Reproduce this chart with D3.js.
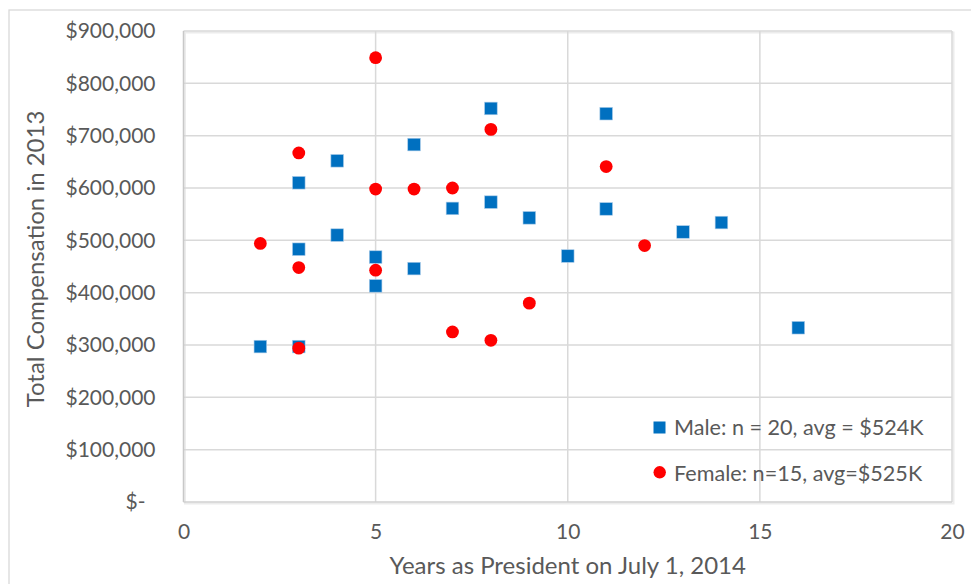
<!DOCTYPE html>
<html>
<head>
<meta charset="utf-8">
<script src="https://cdn.jsdelivr.net/npm/d3@7"></script>
<style>
  body { margin: 0; background: #fff; }
  text { font-family: Lato, "Open Sans", sans-serif; fill: #595959; }
</style>
</head>
<body>
<div id="chart"></div>
<script>
// data
var maleYears = [2, 3, 3, 3, 4, 4, 5, 5, 6, 6, 7, 8, 8, 9, 10, 11, 11, 13, 14, 16];
var maleComp = [297000, 297000, 483000, 610000, 652000, 510000, 468000, 413000, 683000, 446000,
                561000, 752000, 573000, 543000, 470000, 742000, 560000, 516000, 534000, 333000];
var femaleYears = [2, 3, 3, 3, 5, 5, 5, 6, 7, 7, 8, 8, 9, 11, 12];
var femaleComp = [494000, 667000, 448000, 294000, 849000, 598000, 443000, 598000, 600000, 325000,
                  712000, 309000, 380000, 641000, 490000];
var xTicks = [0, 5, 10, 15, 20];
var yTicks = [0, 100000, 200000, 300000, 400000, 500000, 600000, 700000, 800000, 900000];
var legendLabels = ["Male: n = 20, avg = $524K", "Female: n=15, avg=$525K"];

function createChart() {
  var W = 971, H = 584;
  var margin = { top: 31, right: 19, bottom: 82, left: 183.5 };
  var width = W - margin.left - margin.right,
      height = H - margin.top - margin.bottom;

  var svg = d3.select("#chart").append("svg")
    .attr("width", W)
    .attr("height", H);

  // outer chart border (runs off the right and bottom edge)
  svg.append("rect")
    .attr("x", 9).attr("y", 10)
    .attr("width", W + 20).attr("height", H + 20)
    .attr("fill", "none")
    .attr("stroke", "#d9d9d9")
    .attr("stroke-width", 1.3);

  var g = svg.append("g")
    .attr("transform", "translate(" + margin.left + "," + margin.top + ")");

  var x = d3.scaleLinear().domain([0, 20]).range([0, width]);
  var y = d3.scaleLinear().domain([0, 900000]).range([height, 0]);

  // plot area shadow + border
  g.append("rect")
    .attr("x", 1.5).attr("y", 1.5)
    .attr("width", width).attr("height", height)
    .attr("fill", "none")
    .attr("stroke", "#ececec")
    .attr("stroke-width", 2);

  // gridlines
  g.append("g")
    .selectAll("line.h")
    .data(yTicks.slice(1))
    .enter().append("line")
    .attr("x1", 0).attr("x2", width)
    .attr("y1", d => y(d)).attr("y2", d => y(d))
    .attr("stroke", "#d9d9d9")
    .attr("stroke-width", 1.5);

  g.append("g")
    .selectAll("line.v")
    .data(xTicks.slice(1))
    .enter().append("line")
    .attr("x1", d => x(d)).attr("x2", d => x(d))
    .attr("y1", 0).attr("y2", height)
    .attr("stroke", "#d9d9d9")
    .attr("stroke-width", 1.5);

  // axis lines
  g.append("line")
    .attr("x1", 0).attr("x2", 0).attr("y1", 0).attr("y2", height)
    .attr("stroke", "#c8c8c8").attr("stroke-width", 1.5);
  g.append("line")
    .attr("x1", 0).attr("x2", width).attr("y1", height).attr("y2", height)
    .attr("stroke", "#d0d0d0").attr("stroke-width", 1.5);

  // y axis labels
  var yAxis = d3.axisLeft(y)
    .tickValues(yTicks)
    .tickSize(0)
    .tickPadding(28)
    .tickFormat(d => d === 0 ? "$-" : "$" + d3.format(",")(d));

  var yg = g.append("g").call(yAxis);
  yg.select(".domain").remove();
  yg.selectAll("text")
    .attr("font-size", 21)
    .attr("font-family", null)
    .attr("fill", "#595959")
    .attr("dx", d => d === 0 ? -10 : 0);

  // x axis labels
  var xAxis = d3.axisBottom(x)
    .tickValues(xTicks)
    .tickSize(0)
    .tickPadding(22);

  var xg = g.append("g")
    .attr("transform", "translate(0," + height + ")")
    .call(xAxis);
  xg.select(".domain").remove();
  xg.selectAll("text")
    .attr("font-size", 21)
    .attr("font-family", null)
    .attr("fill", "#595959");

  // axis titles
  svg.append("text")
    .attr("x", margin.left + width / 2)
    .attr("y", 574)
    .attr("text-anchor", "middle")
    .attr("font-size", 24)
    .text("Years as President on July 1, 2014");

  svg.append("text")
    .attr("transform", "translate(44,259) rotate(-90)")
    .attr("text-anchor", "middle")
    .attr("font-size", 24)
    .text("Total Compensation in 2013");

  var male = maleYears.map((d, i) => ({ x: d, y: maleComp[i] }));
  var female = femaleYears.map((d, i) => ({ x: d, y: femaleComp[i] }));
  var s = 12.6;

  // male squares
  g.append("g")
    .selectAll("rect")
    .data(male)
    .enter().append("rect")
    .attr("x", d => x(d.x) - s / 2)
    .attr("y", d => y(d.y) - s / 2)
    .attr("width", s).attr("height", s)
    .attr("fill", "#0070c0")
    .attr("stroke", "#a9cbe8")
    .attr("stroke-width", 0.6);

  // female circles
  g.append("g")
    .selectAll("circle")
    .data(female)
    .enter().append("circle")
    .attr("cx", d => x(d.x))
    .attr("cy", d => y(d.y))
    .attr("r", 6.4)
    .attr("fill", "#ff0000");

  // legend
  var lg = svg.append("g");
  lg.append("rect")
    .attr("x", 653.5).attr("y", 421.5)
    .attr("width", 12).attr("height", 12)
    .attr("fill", "#0070c0");
  lg.append("circle")
    .attr("cx", 659.7).attr("cy", 472.3)
    .attr("r", 6.2)
    .attr("fill", "#ff0000");
  lg.selectAll("text")
    .data(legendLabels)
    .enter().append("text")
    .attr("x", 674)
    .attr("y", (d, i) => 435 + i * 45.5)
    .attr("font-size", 21.6)
    .text(d => d);
}

createChart();
</script>
</body>
</html>
